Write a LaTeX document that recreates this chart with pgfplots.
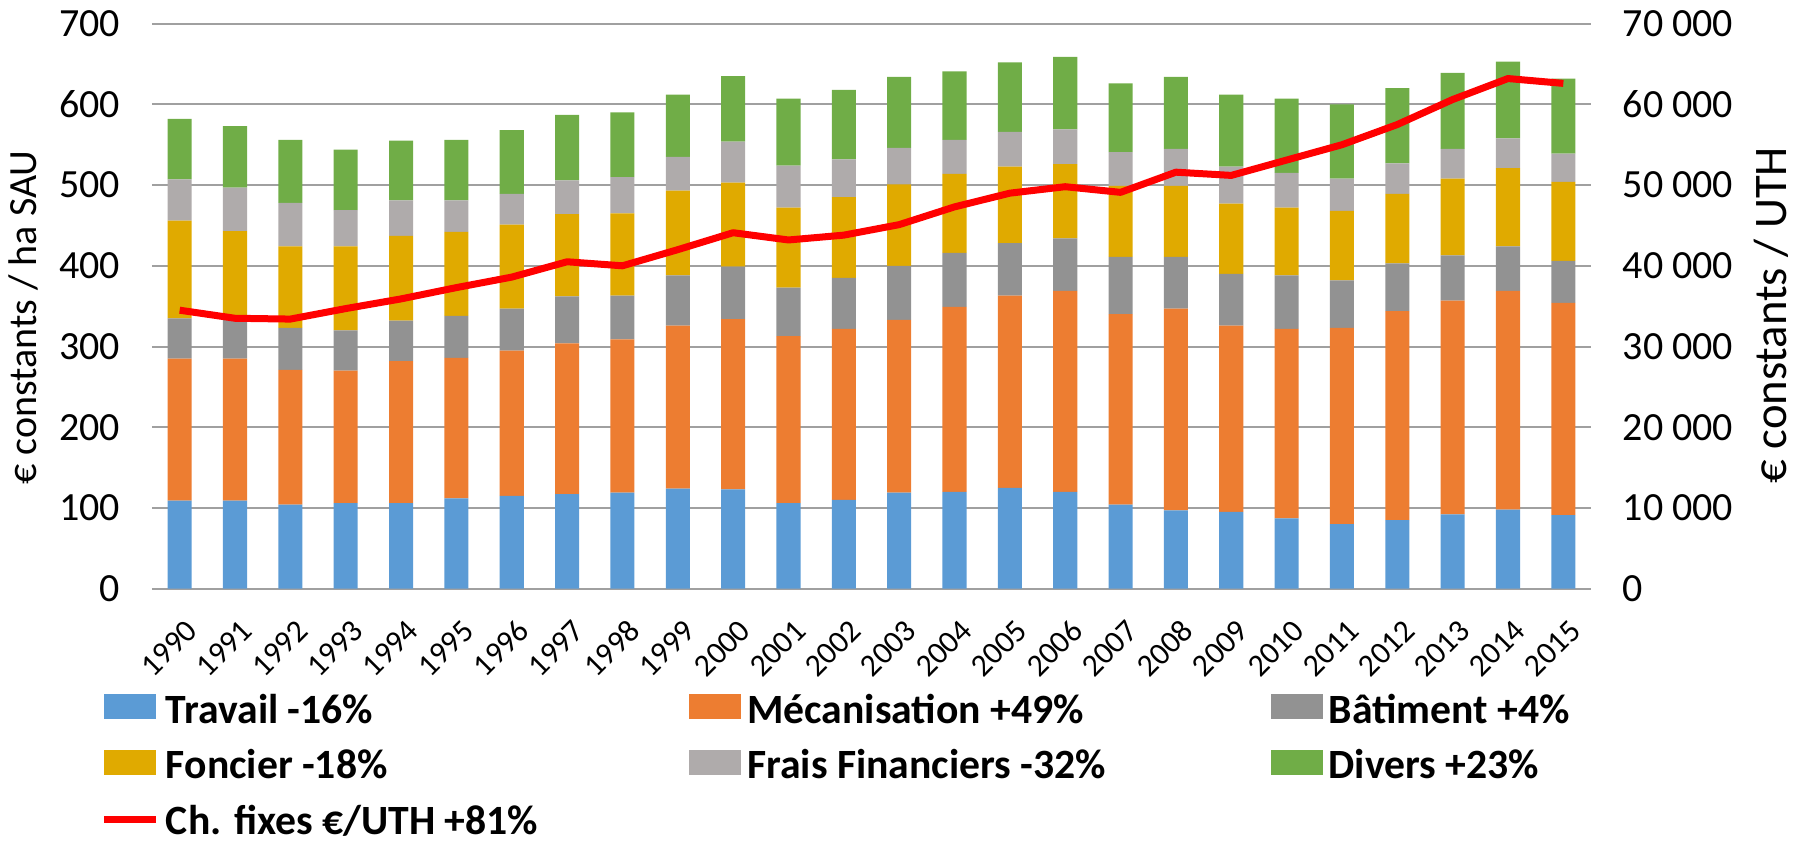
\documentclass[border=0pt]{standalone}
\usepackage{fontspec}
\setmainfont{Carlito}
\usepackage{pgfplots}
\pgfplotsset{compat=1.18}
\usepackage{pgfplotstable}
\definecolor{cTrav}{RGB}{91,155,213}
\definecolor{cMeca}{RGB}{237,125,49}
\definecolor{cBat}{RGB}{146,146,146}
\definecolor{cFonc}{RGB}{224,170,0}
\definecolor{cFrais}{RGB}{175,171,171}
\definecolor{cDiv}{RGB}{112,173,71}
\definecolor{cGrid}{RGB}{160,160,160}
\newcommand{\legtxt}[1]{\makebox[157pt][l]{\rule[-4pt]{0pt}{16.6pt}#1}}
\pgfplotstableread{
x travail meca bat foncier frais divers uth
0 109 176 50 121 51 75 34500
1 109 176 48 110 54 76 33500
2 104 167 52 101 54 78 33400
3 106 164 50 104 45 75 34700
4 106 176 50 105 44 74 35900
5 112 174 52 104 39 75 37300
6 115 180 52 104 38 79 38600
7 117 187 58 102 42 81 40500
8 119 190 54 102 45 80 40000
9 124 202 62 105 42 77 42000
10 123 211 65 104 51 81 44100
11 106 207 60 99 52 83 43200
12 110 212 63 100 47 86 43800
13 119 214 67 101 45 88 45100
14 120 229 67 98 42 85 47300
15 125 238 65 95 43 86 49000
16 120 249 65 92 43 90 49800
17 104 236 71 88 42 85 49100
18 97 250 64 88 46 89 51600
19 95 231 64 87 46 89 51200
20 87 235 66 84 43 92 53100
21 80 243 59 86 40 92 55000
22 85 259 59 86 38 93 57500
23 92 265 56 95 37 94 60600
24 98 271 55 97 37 95 63200
25 91 263 52 98 35 93 62600
}\data
\pgfplotsset{
  mybarleg/.style={legend image code/.code={\fill[##1] (0pt,-4.3pt) rectangle (15.6pt,3.1pt); \path (17.4pt,0pt);}},
  mylineleg/.style={legend image code/.code={\draw[##1] (0pt,-1.0pt) -- (15.6pt,-1.0pt); \path (17.4pt,0pt);}},
}
\begin{document}
\begin{tikzpicture}
\path[use as bounding box] (-45.6pt,-77.8pt) rectangle (495pt,176.6pt);
\begin{axis}[
  scale only axis, width=431.7pt, height=169.5pt,
  xmin=-0.5, xmax=25.5, ymin=0, ymax=700,
  ybar stacked, bar width=0.435,
  xtick={0,...,25},
  xticklabels={1990,1991,1992,1993,1994,1995,1996,1997,1998,1999,2000,2001,2002,2003,2004,2005,2006,2007,2008,2009,2010,2011,2012,2013,2014,2015},
  ytick={0,100,...,700},
  yticklabels={0,100,200,300,400,500,600,700},
  axis line style={draw=none}, tick style={draw=none},
  ymajorgrids, major grid style={cGrid, line width=0.6pt},
  yticklabel style={font=\fontsize{12}{14}\selectfont, xshift=-6pt},
  xticklabel style={font=\fontsize{9.5}{10}\selectfont, inner sep=0pt, xshift=3.7pt, yshift=-10.9pt, rotate=45, anchor=east},
  ylabel={€ constants / ha SAU},
  every axis y label/.style={at={(axis description cs:-0.089,0.48)}, rotate=90, anchor=center, font=\fontsize{12}{14}\selectfont},
  legend columns=3, legend cell align=left,
  legend style={at={(0,0)}, anchor=north west, xshift=-15.3pt, yshift=-27.7pt,
    draw=none, fill=none, inner sep=0pt, outer sep=0pt,
    nodes={inner sep=0pt, outer sep=0pt}, column sep=0pt, row sep=2.6pt,
    font=\fontsize{12.5}{14}\selectfont\bfseries},
]
\addplot[fill=cTrav, draw=none, mybarleg] table[x=x,y=travail]{\data};
\addlegendentry{\legtxt{Travail -16\%}}
\addplot[fill=cMeca, draw=none, mybarleg] table[x=x,y=meca]{\data};
\addlegendentry{\legtxt{Mécanisation +49\%}}
\addplot[fill=cBat, draw=none, mybarleg] table[x=x,y=bat]{\data};
\addlegendentry{\legtxt{Bâtiment +4\%}}
\addplot[fill=cFonc, draw=none, mybarleg] table[x=x,y=foncier]{\data};
\addlegendentry{\legtxt{Foncier -18\%}}
\addplot[fill=cFrais, draw=none, mybarleg] table[x=x,y=frais]{\data};
\addlegendentry{\legtxt{Frais Financiers -32\%}}
\addplot[fill=cDiv, draw=none, mybarleg] table[x=x,y=divers]{\data};
\addlegendentry{\legtxt{Divers +23\%}}
\addlegendimage{red, line width=2.1pt, mylineleg}
\addlegendentry{\legtxt{Ch. fixes €/UTH +81\%}}
\end{axis}
\begin{axis}[
  scale only axis, width=431.7pt, height=169.5pt,
  xmin=-0.5, xmax=25.5, ymin=0, ymax=70000,
  axis x line=none, axis y line*=right,
  axis line style={draw=none}, tick style={draw=none},
  scaled y ticks=false,
  ytick={0,10000,...,70000},
  yticklabels={0,10 000,20 000,30 000,40 000,50 000,60 000,70 000},
  yticklabel style={font=\fontsize{12}{14}\selectfont, xshift=6pt},
  ylabel={€ constants / UTH},
  every axis y label/.style={at={(axis description cs:1.125,0.484)}, rotate=90, anchor=center, font=\fontsize{14}{16}\selectfont},
]
\addplot[red, line width=2.1pt, line join=round] table[x=x,y=uth]{\data};
\end{axis}
\end{tikzpicture}
\end{document}
